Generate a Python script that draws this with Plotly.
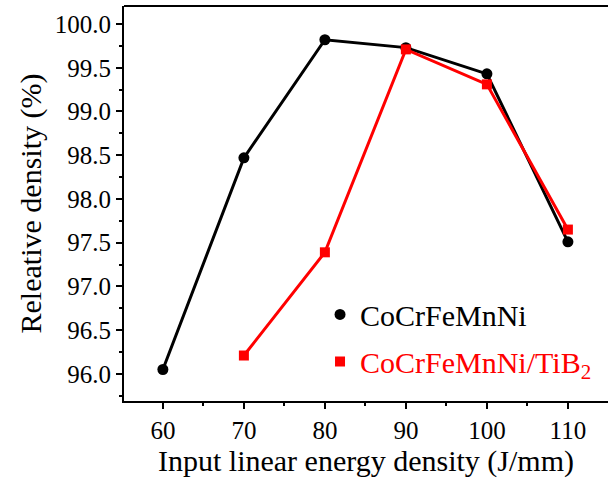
import plotly.graph_objects as go

energy_black = [60, 70, 80, 90, 100, 110]
density_black = [96.05, 98.47, 99.82, 99.73, 99.43, 97.51]
energy_red = [70, 80, 90, 100, 110]
density_red = [96.21, 97.39, 99.71, 99.31, 97.65]
name_black = "CoCrFeMnNi"
name_red = "CoCrFeMnNi/TiB<sub>2</sub>"

fig = go.Figure()
fig.add_trace(go.Scatter(x=energy_black, y=density_black, mode="lines+markers",
                         showlegend=False,
                         line=dict(color="black", width=3),
                         marker=dict(symbol="circle", size=11, color="black")))
fig.add_trace(go.Scatter(x=energy_red, y=density_red, mode="lines+markers",
                         showlegend=False,
                         line=dict(color="#ff0000", width=3),
                         marker=dict(symbol="square", size=10, color="#ff0000")))
# legend entries (markers only, as in the reference)
fig.add_trace(go.Scatter(x=[None], y=[None], mode="markers", name=name_black,
                         legendgroup="a",
                         marker=dict(symbol="circle", size=11, color="black")))
fig.add_trace(go.Scatter(x=[None], y=[None], mode="markers",
                         name="<span style='color:#ff0000'>" + name_red + "</span>",
                         legendgroup="b",
                         marker=dict(symbol="square", size=10, color="#ff0000")))

font = "Liberation Serif"
fig.update_layout(
    width=608, height=478,
    margin=dict(l=124, r=0, t=6, b=77),
    paper_bgcolor="white", plot_bgcolor="white",
    font=dict(family=font, color="black", size=25),
    showlegend=True,
    legend=dict(x=0.405, y=0.285, xanchor="left", yanchor="top",
                font=dict(family=font, size=30, color="black"),
                bgcolor="rgba(0,0,0,0)", tracegroupgap=5, itemwidth=30),
    xaxis=dict(range=[55.2, 114.95], tickvals=[60, 70, 80, 90, 100, 110],
               showline=True, linecolor="black", linewidth=2, mirror=False,
               ticks="outside", ticklen=6, tickwidth=1.5, tickcolor="black",
               minor=dict(tickvals=[65, 75, 85, 95, 105], ticks="outside", ticklen=3, tickwidth=1.5, tickcolor="black"),
               showgrid=False, zeroline=False,
               tickfont=dict(family=font, size=25, color="black"),
               title=dict(text="Input linear energy density (J/mm)",
                          font=dict(family=font, size=30, color="black"), standoff=0)),
    yaxis=dict(range=[95.69, 100.206], tickvals=[96.0, 96.5, 97.0, 97.5, 98.0, 98.5, 99.0, 99.5, 100.0],
               tickformat=".1f",
               showline=True, linecolor="black", linewidth=2, mirror=False,
               ticks="outside", ticklen=6, tickwidth=1.5, tickcolor="black",
               minor=dict(tickvals=[95.75, 96.25, 96.75, 97.25, 97.75, 98.25, 98.75, 99.25, 99.75],
                          ticks="outside", ticklen=3, tickwidth=1.5, tickcolor="black"),
               showgrid=False, zeroline=False,
               tickfont=dict(family=font, size=25, color="black"),
               title=dict(text="Releative density (%)",
                          font=dict(family=font, size=30, color="black"), standoff=4)),
    shapes=[dict(type="line", xref="paper", yref="paper", x0=0, x1=1, y0=1, y1=1,
                 line=dict(color="black", width=2))],
)
fig.write_html("out.html", config={"displayModeBar": False})
